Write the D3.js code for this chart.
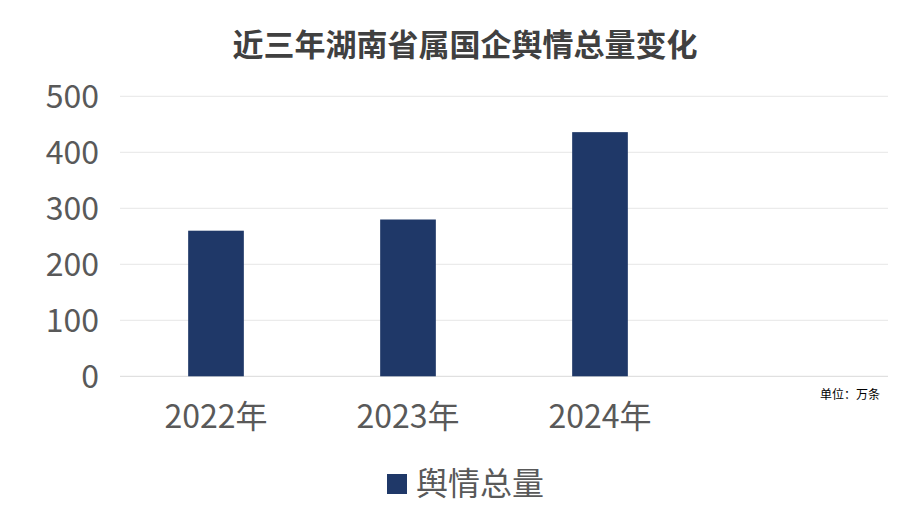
<!DOCTYPE html>
<html><head><meta charset="utf-8">
<script src="https://cdn.jsdelivr.net/npm/d3@7"></script>
<style>body{margin:0;background:#fff;}svg{display:block;}</style>
</head><body>
<svg id="c" width="920" height="526"></svg>
<script>
const categories = ["2022年", "2023年", "2024年", ""];
const values = [260, 280, 436, null];
const yTicks = [0, 100, 200, 300, 400, 500];
const seriesName = "舆情总量";
const titleText = "近三年湖南省属国企舆情总量变化";
const unitText = "单位：万条";

const svg = d3.select("#c");
const font = "'Microsoft YaHei','Noto Sans CJK SC','Noto Sans',sans-serif";
const m = {left:120, right:888, top:96.3, bottom:376.3};
const x = d3.scaleBand().domain(categories.map((d,i)=>i)).range([m.left, m.right]).paddingInner(0.71).paddingOuter(0.355);
const y = d3.scaleLinear().domain([0,500]).range([m.bottom, m.top]);

svg.append("text").attr("x",465).attr("y",44).attr("dy","0.38em").attr("text-anchor","middle")
  .attr("font-family",font).attr("font-size",31).attr("font-weight","bold").attr("fill","#404040").text(titleText);

const grid = svg.append("g");
grid.selectAll("line").data(yTicks).join("line")
  .attr("x1",m.left).attr("x2",m.right).attr("y1",d=>y(d)).attr("y2",d=>y(d))
  .attr("stroke",d=>d===0?"#d9d9d9":"#e6e6e6").attr("stroke-width",1);

const yAxis = d3.axisLeft(y).tickValues(yTicks).tickSize(0).tickPadding(0);
const gy = svg.append("g").attr("transform","translate(99,0)").call(yAxis);
gy.select(".domain").remove();
gy.selectAll("text").attr("font-family",font).attr("font-size",32).attr("fill","#595959").attr("dy","0.35em");

const xAxis = d3.axisBottom(x).tickFormat(i=>categories[i]).tickSize(0).tickPadding(0);
const gx = svg.append("g").attr("transform",`translate(0,${m.bottom+40})`).call(xAxis);
gx.select(".domain").remove();
gx.selectAll("text").attr("font-family",font).attr("font-size",32).attr("fill","#595959").attr("dy","0.35em").attr("y",0);

svg.append("g").selectAll("rect").data(values.map((v,i)=>({v,i})).filter(d=>d.v!=null)).join("rect")
  .attr("x",d=>x(d.i)).attr("width",x.bandwidth())
  .attr("y",d=>y(d.v)).attr("height",d=>y(0)-y(d.v)).attr("fill","#1F3868");

svg.append("text").attr("x",880).attr("y",399).attr("text-anchor","end")
  .attr("font-family",font).attr("font-size",12).attr("fill","#000").text(unitText);

const lg = svg.append("g");
lg.append("rect").attr("x",387).attr("y",474).attr("width",20).attr("height",20).attr("fill","#1F3868");
lg.append("text").attr("x",416).attr("y",484).attr("dy","0.35em").attr("font-family",font).attr("font-size",32).attr("fill","#595959").text(seriesName);
</script>
</body></html>
